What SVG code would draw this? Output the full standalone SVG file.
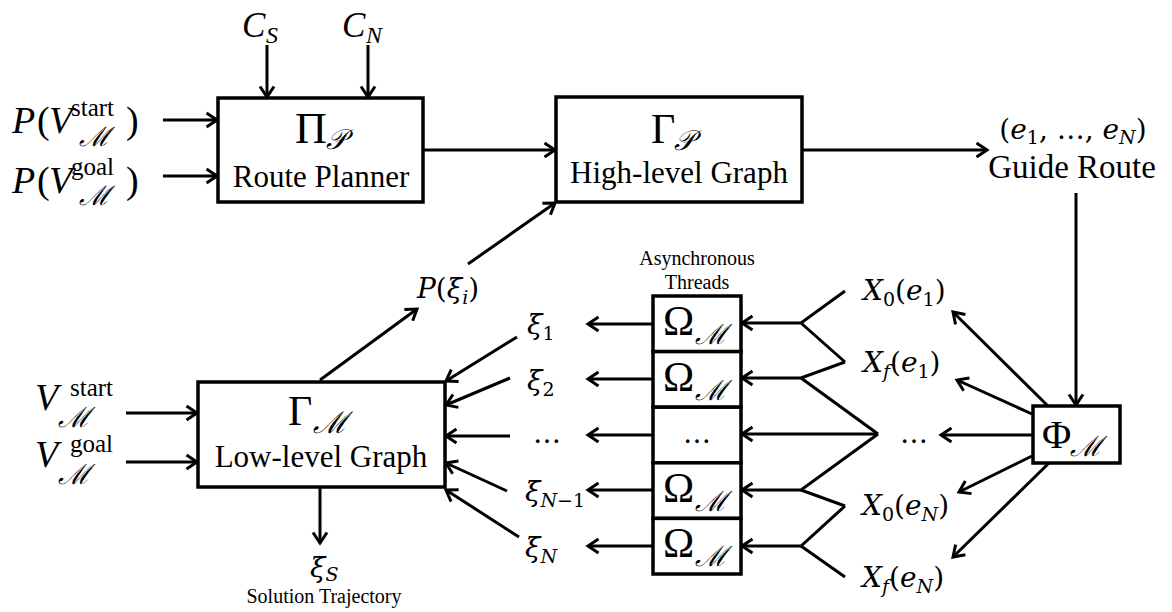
<svg xmlns="http://www.w3.org/2000/svg" width="1172" height="612" viewBox="0 0 1172 612">
<defs>
<marker id="ah" markerUnits="userSpaceOnUse" markerWidth="18" markerHeight="18" viewBox="0 0 18 18" refX="15" refY="9" orient="auto">
<path d="M4.5,2 L15,9 L4.5,16" fill="none" stroke="#000" stroke-width="3"/>
</marker>
<style>
.box{fill:#fff;stroke:#000;stroke-width:3.5}
.ln{fill:none;stroke:#000;stroke-width:3}
.ar{fill:none;stroke:#000;stroke-width:3;marker-end:url(#ah)}
text{fill:#000}
.it{font-style:italic}
.cm{font-style:italic}
.sc{font-style:italic}
</style>
</defs>

<g id="connectors">
<line class="ar" x1="267" y1="45" x2="267" y2="97"/>
<line class="ar" x1="368" y1="45" x2="368" y2="97"/>
<line class="ar" x1="163" y1="120" x2="217" y2="120"/>
<line class="ar" x1="163" y1="176" x2="217" y2="176"/>
<line class="ar" x1="424" y1="150" x2="555" y2="150"/>
<line class="ar" x1="802" y1="150" x2="987" y2="150"/>
<line class="ar" x1="1076" y1="193" x2="1076" y2="405"/>
<line class="ar" x1="1048" y1="406" x2="953" y2="312"/>
<line class="ar" x1="1032" y1="414" x2="957" y2="380"/>
<line class="ar" x1="1033" y1="435" x2="941" y2="435"/>
<line class="ar" x1="1032" y1="456" x2="959" y2="492"/>
<line class="ar" x1="1049" y1="463" x2="953" y2="557"/>
<path class="ar" d="M845,291 L801,323 L742,323"/>
<path class="ln" d="M801,323 L845,362"/>
<path class="ar" d="M845,362 L801,378 L742,378"/>
<path class="ln" d="M801,378 L878,434"/>
<path class="ar" d="M878,434 L742,434"/>
<path class="ar" d="M878,434 L801,490 L742,490"/>
<path class="ln" d="M801,490 L845,506"/>
<path class="ar" d="M845,506 L801,546 L742,546"/>
<path class="ln" d="M801,546 L845,577"/>
<line class="ar" x1="653" y1="324" x2="588" y2="324"/>
<line class="ar" x1="653" y1="379" x2="588" y2="379"/>
<line class="ar" x1="653" y1="435" x2="588" y2="435"/>
<line class="ar" x1="653" y1="490" x2="588" y2="490"/>
<line class="ar" x1="653" y1="546" x2="588" y2="546"/>
<line class="ar" x1="517" y1="337" x2="446" y2="381"/>
<line class="ar" x1="510" y1="378" x2="446" y2="405"/>
<line class="ar" x1="510" y1="436" x2="446" y2="436"/>
<line class="ar" x1="507" y1="491" x2="446" y2="463"/>
<line class="ar" x1="519" y1="537" x2="446" y2="490"/>
<line class="ar" x1="320" y1="380" x2="417" y2="309"/>
<line class="ar" x1="468" y1="264" x2="555" y2="203"/>
<line class="ar" x1="126" y1="413" x2="197" y2="413"/>
<line class="ar" x1="126" y1="462" x2="197" y2="462"/>
<line class="ar" x1="320" y1="487" x2="320" y2="543"/>
</g>

<g font-family="Liberation Serif, serif">
<g id="in-cs">
<text class="it" x="242" y="37" font-size="35">C</text>
<text class="it" x="266" y="43" font-size="24">S</text>
</g>
<g id="in-cn">
<text class="it" x="342" y="37" font-size="35">C</text>
<text class="it" x="366" y="43" font-size="24">N</text>
</g>
<g id="in-pstart">
<text class="it" x="12" y="133" font-size="38">P</text>
<text x="37" y="133" font-size="38">(</text>
<text class="it" x="49" y="133" font-size="38">V</text>
<text x="71" y="116" font-size="25">start</text>
<text class="sc" font-family="DejaVu Serif, serif" x="79" y="146" font-size="27">ℳ</text>
<text x="126" y="133" font-size="38">)</text>
</g>
<g id="in-pgoal">
<text class="it" x="12" y="193" font-size="38">P</text>
<text x="37" y="193" font-size="38">(</text>
<text class="it" x="49" y="193" font-size="38">V</text>
<text x="71" y="175" font-size="25">goal</text>
<text class="sc" font-family="DejaVu Serif, serif" x="79" y="205" font-size="27">ℳ</text>
<text x="126" y="193" font-size="38">)</text>
</g>

<g id="route-planner">
<rect class="box" x="218" y="98" width="205" height="104"/>
<text x="295" y="143" font-size="44">Π</text>
<text class="sc" font-family="DejaVu Serif, serif" x="326" y="149" font-size="28">𝒫</text>
<text x="321" y="187" font-size="31" text-anchor="middle">Route Planner</text>
</g>

<g id="high-level-graph">
<rect class="box" x="556" y="97" width="246" height="105"/>
<text x="651" y="143" font-size="42">Γ</text>
<text class="sc" font-family="DejaVu Serif, serif" x="674" y="150" font-size="28">𝒫</text>
<text x="679" y="183" font-size="31" text-anchor="middle">High-level Graph</text>
</g>

<g id="guide-route">
<text class="cm" font-family="DejaVu Serif, serif" x="1073" y="139" font-size="28" text-anchor="middle"><tspan font-style="normal">(</tspan>e<tspan font-style="normal" font-size="19" dy="5">1</tspan><tspan font-style="normal" dy="-5">, …, </tspan>e<tspan font-size="19" dy="5">N</tspan><tspan font-style="normal" dy="-5">)</tspan></text>
<text x="1072" y="178" font-size="33" text-anchor="middle">Guide Route</text>
</g>

<g id="phi">
<rect class="box" x="1033" y="406" width="87" height="57"/>
<text x="1042" y="448" font-size="40">Φ</text>
<text class="sc" font-family="DejaVu Serif, serif" x="1070" y="456" font-size="28">ℳ</text>
</g>

<g id="x-labels" font-family="DejaVu Serif, serif">
<text class="cm" x="863" y="300" font-size="28">X<tspan font-style="normal" font-size="19" dy="6">0</tspan><tspan font-style="normal" dy="-6">(</tspan>e<tspan font-style="normal" font-size="19" dy="6">1</tspan><tspan font-style="normal" dy="-6">)</tspan></text>
<text class="cm" x="863" y="372" font-size="28">X<tspan font-size="19" dy="6">f</tspan><tspan font-style="normal" dy="-6">(</tspan>e<tspan font-style="normal" font-size="19" dy="6">1</tspan><tspan font-style="normal" dy="-6">)</tspan></text>
<text x="900" y="443" font-size="28">…</text>
<text class="cm" x="862" y="515" font-size="28">X<tspan font-style="normal" font-size="19" dy="6">0</tspan><tspan font-style="normal" dy="-6">(</tspan>e<tspan font-size="19" dy="6">N</tspan><tspan font-style="normal" dy="-6">)</tspan></text>
<text class="cm" x="862" y="587" font-size="28">X<tspan font-size="19" dy="6">f</tspan><tspan font-style="normal" dy="-6">(</tspan>e<tspan font-size="19" dy="6">N</tspan><tspan font-style="normal" dy="-6">)</tspan></text>
</g>

<g id="threads">
<text x="697" y="265" font-size="20" text-anchor="middle">Asynchronous</text>
<text x="697" y="289" font-size="20" text-anchor="middle">Threads</text>
<rect class="box" x="653" y="296" width="88" height="55.6"/>
<rect class="box" x="653" y="351.6" width="88" height="55.6"/>
<rect class="box" x="653" y="407.2" width="88" height="55.6"/>
<rect class="box" x="653" y="462.8" width="88" height="55.6"/>
<rect class="box" x="653" y="518.4" width="88" height="55.6"/>
<text x="663" y="335" font-size="42">Ω</text><text class="sc" font-family="DejaVu Serif, serif" x="695" y="344" font-size="28">ℳ</text>
<text x="663" y="391" font-size="42">Ω</text><text class="sc" font-family="DejaVu Serif, serif" x="695" y="400" font-size="28">ℳ</text>
<text font-family="DejaVu Serif, serif" x="697" y="443" font-size="28" text-anchor="middle">…</text>
<text x="663" y="502" font-size="42">Ω</text><text class="sc" font-family="DejaVu Serif, serif" x="695" y="511" font-size="28">ℳ</text>
<text x="663" y="557" font-size="42">Ω</text><text class="sc" font-family="DejaVu Serif, serif" x="695" y="566" font-size="28">ℳ</text>
</g>

<g id="xi-labels" font-family="DejaVu Serif, serif">
<text class="cm" x="527" y="334" font-size="28">ξ<tspan font-style="normal" font-size="19" dy="6">1</tspan></text>
<text class="cm" x="527" y="390" font-size="28">ξ<tspan font-style="normal" font-size="19" dy="6">2</tspan></text>
<text x="533" y="443" font-size="28">…</text>
<text class="cm" x="525" y="501" font-size="28">ξ<tspan font-size="19" dy="6">N</tspan><tspan font-style="normal" font-size="19">−1</tspan></text>
<text class="cm" x="525" y="557" font-size="28">ξ<tspan font-size="19" dy="6">N</tspan></text>
</g>

<g id="p-xi" font-family="DejaVu Serif, serif">
<text class="cm" x="417" y="298" font-size="28">P<tspan font-style="normal">(</tspan>ξ<tspan font-size="19" dy="6">i</tspan><tspan font-style="normal" dy="-6">)</tspan></text>
</g>

<g id="in-vstart">
<text class="it" x="35" y="410" font-size="38">V</text>
<text x="70" y="396" font-size="25">start</text>
<text class="sc" font-family="DejaVu Serif, serif" x="58" y="427" font-size="28">ℳ</text>
</g>
<g id="in-vgoal">
<text class="it" x="35" y="467" font-size="38">V</text>
<text x="70" y="452" font-size="25">goal</text>
<text class="sc" font-family="DejaVu Serif, serif" x="58" y="484" font-size="28">ℳ</text>
</g>

<g id="low-level-graph">
<rect class="box" x="198" y="382" width="247" height="105"/>
<text x="288" y="425" font-size="42">Γ</text>
<text class="sc" font-family="DejaVu Serif, serif" x="313" y="433" font-size="30">ℳ</text>
<text x="321" y="467" font-size="31" text-anchor="middle">Low-level Graph</text>
</g>

<g id="solution">
<text class="cm" font-family="DejaVu Serif, serif" x="310" y="577" font-size="28">ξ<tspan font-size="19" dy="4">S</tspan></text>
<text x="324" y="603" font-size="20" text-anchor="middle">Solution Trajectory</text>
</g>
</g>
</svg>
